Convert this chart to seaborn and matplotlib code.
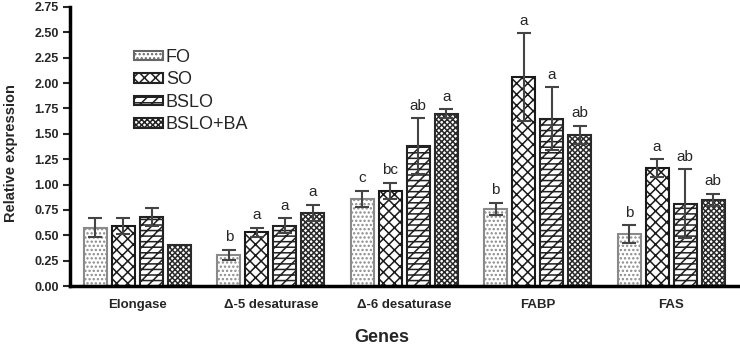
import numpy as np
import pandas as pd
import matplotlib
matplotlib.use("Agg")
import matplotlib.pyplot as plt
import seaborn as sns

genes = ["Elongase", "Δ-5 desaturase", "Δ-6 desaturase", "FABP", "FAS"]
diets = ["FO", "SO", "BSLO", "BSLO+BA"]

fo_vals = [0.575, 0.31, 0.86, 0.76, 0.51]
so_vals = [0.59, 0.53, 0.94, 2.06, 1.16]
bslo_vals = [0.68, 0.595, 1.38, 1.65, 0.81]
ba_vals = [0.41, 0.72, 1.70, 1.49, 0.85]

fo_err = [0.095, 0.05, 0.08, 0.06, 0.09]
so_err = [0.08, 0.045, 0.08, 0.43, 0.09]
bslo_err = [0.09, 0.075, 0.275, 0.31, 0.34]
ba_err = [np.nan, 0.08, 0.04, 0.09, 0.06]

fo_lab = ["", "b", "c", "b", "b"]
so_lab = ["", "a", "bc", "a", "a"]
bslo_lab = ["", "a", "ab", "a", "ab"]
ba_lab = ["", "a", "a", "ab", "ab"]

yticks = [0.0, 0.25, 0.5, 0.75, 1.0, 1.25, 1.5, 1.75, 2.0, 2.25, 2.5, 2.75]

vals = [fo_vals, so_vals, bslo_vals, ba_vals]
errs = [fo_err, so_err, bslo_err, ba_err]
labs = [fo_lab, so_lab, bslo_lab, ba_lab]

rows = []
for d, v in zip(diets, vals):
    for g, x in zip(genes, v):
        rows.append({"gene": g, "diet": d, "value": x})
df = pd.DataFrame(rows)

sns.set_style("white")
plt.rcParams["font.family"] = ["Liberation Sans", "DejaVu Sans"]
plt.rcParams["hatch.linewidth"] = 1.1

fig = plt.figure(figsize=(7.4, 3.46), dpi=100)
ax = fig.add_axes([0.0946, 0.173, 0.9054, 0.807])

sns.barplot(data=df, x="gene", y="value", hue="diet", order=genes,
            hue_order=diets, errorbar=None, width=0.84, gap=0.18,
            palette=["white"] * 4, edgecolor="#333333", linewidth=1.5, ax=ax)

hatches = ["....", "xxx", "---///", "xxxxxx"]
edgecols = ["#8a8a8a", "#1a1a1a", "#222222", "#2a2a2a"]
for cont, h, ec in zip(ax.containers, hatches, edgecols):
    for p in cont.patches:
        p.set_hatch(h)
        p.set_edgecolor(ec)
        p.set_facecolor("white")

for cont, e, lb in zip(ax.containers, errs, labs):
    for p, err, t in zip(cont.patches, e, lb):
        xc = p.get_x() + p.get_width() / 2
        h = p.get_height()
        if not np.isnan(err):
            ax.errorbar(xc, h, yerr=err, color="#444444", capsize=5,
                        elinewidth=1.5, capthick=1.5, fmt="none", zorder=5)
            top = h + err
        else:
            top = h
        if t:
            ax.annotate(t, (xc, top), xytext=(0, 4), textcoords="offset points",
                        ha="center", va="bottom", fontsize=11)

ax.set_xlim(-0.506, 4.517)
ax.set_ylim(0, 2.75)
ax.set_yticks(yticks)
ax.set_yticklabels([f"{v:.2f}" for v in yticks], fontweight="bold", fontsize=9)
ax.set_xticks(range(len(genes)))
ax.set_xticklabels(genes, fontweight="bold", fontsize=9.5)
ax.tick_params(axis="x", length=0, pad=9)
ax.tick_params(axis="y", length=5, width=1.5, direction="out", left=True, pad=3)

for s in ["top", "right"]:
    ax.spines[s].set_visible(False)
for s in ["left", "bottom"]:
    ax.spines[s].set_linewidth(2.5)
    ax.spines[s].set_color("black")

ax.set_ylabel("Relative expression", fontweight="bold", fontsize=10.5)
ax.yaxis.set_label_coords(-0.0775, 0.477)
ax.set_xlabel("Genes", fontweight="bold", fontsize=13)
ax.xaxis.set_label_coords((382 - 70) / 670, -0.155)

leg = ax.legend(loc="upper left", bbox_to_anchor=(0.085, 0.875), frameon=False,
                fontsize=13, handlelength=1.6, handleheight=0.45,
                labelspacing=0.3, handletextpad=0.15, borderaxespad=0)
for hd, h, ec in zip(leg.legend_handles, hatches, edgecols):
    hd.set_hatch(h)
    hd.set_facecolor("white")
    hd.set_edgecolor("#222222" if ec != "#8a8a8a" else "#666666")
    hd.set_linewidth(1.5)

fig.savefig("out.png", dpi=100)
